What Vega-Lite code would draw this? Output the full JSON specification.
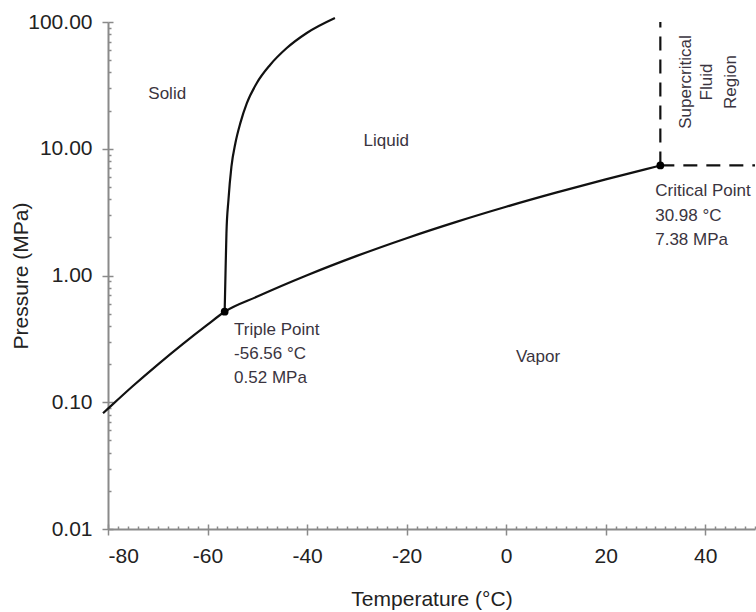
{
  "$schema": "https://vega.github.io/schema/vega-lite/v6.json",
  "width": 647,
  "height": 507,
  "autosize": {"type": "none"},
  "padding": {"left": 108, "top": 22, "right": 1, "bottom": 83},
  "background": "white",
  "config": {
    "view": {"stroke": null},
    "font": "Liberation Sans",
    "axis": {"grid": false, "domainColor": "#8a8a8a", "domainWidth": 2, "tickColor": "#8a8a8a", "tickWidth": 1.5, "labelColor": "#222222", "titleColor": "#222222", "labelFontSize": 21, "titleFontSize": 21, "titleFontWeight": "normal", "labelFont": "Liberation Sans", "titleFont": "Liberation Sans"}
  },
  "datasets": {
    "curves": [
      {"curve": "sublimation-vaporization", "ord": 1, "T": -81, "P": 0.0819},
      {"curve": "sublimation-vaporization", "ord": 2, "T": -80, "P": 0.089},
      {"curve": "sublimation-vaporization", "ord": 3, "T": -75, "P": 0.1343},
      {"curve": "sublimation-vaporization", "ord": 4, "T": -70, "P": 0.1984},
      {"curve": "sublimation-vaporization", "ord": 5, "T": -65, "P": 0.2877},
      {"curve": "sublimation-vaporization", "ord": 6, "T": -60, "P": 0.4098},
      {"curve": "sublimation-vaporization", "ord": 7, "T": -56.56, "P": 0.518},
      {"curve": "sublimation-vaporization", "ord": 8, "T": -50, "P": 0.6824},
      {"curve": "sublimation-vaporization", "ord": 9, "T": -40, "P": 1.0045},
      {"curve": "sublimation-vaporization", "ord": 10, "T": -30, "P": 1.4278},
      {"curve": "sublimation-vaporization", "ord": 11, "T": -20, "P": 1.9696},
      {"curve": "sublimation-vaporization", "ord": 12, "T": -10, "P": 2.6487},
      {"curve": "sublimation-vaporization", "ord": 13, "T": 0, "P": 3.4851},
      {"curve": "sublimation-vaporization", "ord": 14, "T": 10, "P": 4.5022},
      {"curve": "sublimation-vaporization", "ord": 15, "T": 20, "P": 5.7291},
      {"curve": "sublimation-vaporization", "ord": 16, "T": 30, "P": 7.2137},
      {"curve": "sublimation-vaporization", "ord": 17, "T": 30.98, "P": 7.3773},
      {"curve": "melting", "ord": 1, "T": -56.56, "P": 0.518},
      {"curve": "melting", "ord": 2, "T": -56.4, "P": 1.0},
      {"curve": "melting", "ord": 3, "T": -56.2, "P": 2.16},
      {"curve": "melting", "ord": 4, "T": -55.8, "P": 3.94},
      {"curve": "melting", "ord": 5, "T": -55.2, "P": 7.22},
      {"curve": "melting", "ord": 6, "T": -54.4, "P": 11.1},
      {"curve": "melting", "ord": 7, "T": -53.4, "P": 16.0},
      {"curve": "melting", "ord": 8, "T": -52.1, "P": 22.9},
      {"curve": "melting", "ord": 9, "T": -50.1, "P": 33.0},
      {"curve": "melting", "ord": 10, "T": -47.44, "P": 45.8},
      {"curve": "melting", "ord": 11, "T": -44.08, "P": 62.3},
      {"curve": "melting", "ord": 12, "T": -40.06, "P": 81.9},
      {"curve": "melting", "ord": 13, "T": -34.4, "P": 107.5}
    ],
    "dashed": [
      {"seg": "vertical", "ord": 1, "T": 30.98, "P": 7.38},
      {"seg": "vertical", "ord": 2, "T": 30.98, "P": 100},
      {"seg": "horizontal", "ord": 1, "T": 30.98, "P": 7.38},
      {"seg": "horizontal", "ord": 2, "T": 50, "P": 7.38}
    ],
    "points": [
      {"name": "Triple Point", "T": -56.56, "P": 0.518},
      {"name": "Critical Point", "T": 30.98, "P": 7.38}
    ],
    "labels": [
      {"kind": "center", "text": "Solid", "T": -68.1, "P": 27.0},
      {"kind": "center", "text": "Liquid", "T": -24.1, "P": 11.5},
      {"kind": "center", "text": "Vapor", "T": 6.4, "P": 0.2275},
      {"kind": "left", "text": "Triple Point", "T": -54.67, "P": 0.3715},
      {"kind": "left", "text": "-56.56 °C", "T": -54.67, "P": 0.2405},
      {"kind": "left", "text": "0.52 MPa", "T": -54.67, "P": 0.1552},
      {"kind": "left", "text": "Critical Point", "T": 29.95, "P": 4.64},
      {"kind": "left", "text": "30.98 °C", "T": 29.95, "P": 2.947},
      {"kind": "left", "text": "7.38 MPa", "T": 29.95, "P": 1.905},
      {"kind": "rotated", "text": "Supercritical", "T": 36.2, "P": 33.6},
      {"kind": "rotated", "text": "Fluid", "T": 40.4, "P": 33.6},
      {"kind": "rotated", "text": "Region", "T": 45.2, "P": 33.6}
    ]
  },
  "layer": [
    {
      "data": {"name": "curves"},
      "mark": {"type": "line", "color": "#111111", "strokeWidth": 2.2, "interpolate": "monotone"},
      "encoding": {
        "x": {"field": "T", "type": "quantitative", "scale": {"domain": [-80, 50], "nice": false, "zero": false},
          "axis": {"orient": "bottom", "values": [-80, -60, -40, -20, 0, 20, 40], "labelExpr": "datum.value < 0 ? '-' + abs(datum.value) : '' + datum.value", "title": "Temperature (°C)", "tickSize": 6, "labelPadding": 10, "titlePadding": 22}},
        "y": {"field": "P", "type": "quantitative", "scale": {"type": "log", "domain": [0.01, 100], "nice": false},
          "axis": {"orient": "left", "values": [0.01, 0.1, 1, 10, 100], "format": ".2f", "title": "Pressure (MPa)", "tickSize": 6, "labelPadding": 10, "titlePadding": -4}},
        "detail": {"field": "curve"},
        "order": {"field": "ord", "type": "quantitative"}
      }
    },
    {
      "data": {"name": "dashed"},
      "mark": {"type": "line", "color": "#111111", "strokeWidth": 2.2, "strokeDash": [14, 9]},
      "encoding": {
        "x": {"field": "T", "type": "quantitative", "scale": {"domain": [-80, 50], "nice": false, "zero": false},
          "axis": {"orient": "bottom", "values": [-80, -78, -76, -74, -72, -70, -68, -66, -64, -62, -60, -58, -56, -54, -52, -50, -48, -46, -44, -42, -40, -38, -36, -34, -32, -30, -28, -26, -24, -22, -20, -18, -16, -14, -12, -10, -8, -6, -4, -2, 0, 2, 4, 6, 8, 10, 12, 14, 16, 18, 20, 22, 24, 26, 28, 30, 32, 34, 36, 38, 40, 42, 44, 46, 48, 50],
            "labels": false, "title": null, "domain": false,
            "tickSize": {"condition": {"test": "datum.value % 20 === 0", "value": -5}, "value": -3}}},
        "y": {"field": "P", "type": "quantitative", "scale": {"type": "log", "domain": [0.01, 100], "nice": false},
          "axis": {"orient": "left", "values": [0.01, 0.02, 0.03, 0.04, 0.05, 0.06, 0.07, 0.08, 0.09, 0.1, 0.2, 0.3, 0.4, 0.5, 0.6, 0.7, 0.8, 0.9, 1, 2, 3, 4, 5, 6, 7, 8, 9, 10, 20, 30, 40, 50, 60, 70, 80, 90, 100],
            "labels": false, "title": null, "domain": false,
            "tickSize": {"condition": {"test": "abs(log(datum.value)/LN10 - round(log(datum.value)/LN10)) < 0.000001", "value": -5}, "value": -3}}},
        "detail": {"field": "seg"},
        "order": {"field": "ord", "type": "quantitative"}
      }
    },
    {
      "data": {"name": "points"},
      "mark": {"type": "point", "filled": true, "color": "#000000", "size": 60, "opacity": 1},
      "encoding": {
        "x": {"field": "T", "type": "quantitative", "axis": null},
        "y": {"field": "P", "type": "quantitative", "axis": null}
      }
    },
    {
      "data": {"name": "labels"},
      "transform": [{"filter": "datum.kind === 'center'"}],
      "mark": {"type": "text", "align": "center", "baseline": "middle", "fontSize": 17, "color": "#3a3440", "font": "Liberation Sans"},
      "encoding": {
        "x": {"field": "T", "type": "quantitative", "axis": null},
        "y": {"field": "P", "type": "quantitative", "axis": null},
        "text": {"field": "text"}
      }
    },
    {
      "data": {"name": "labels"},
      "transform": [{"filter": "datum.kind === 'left'"}],
      "mark": {"type": "text", "align": "left", "baseline": "middle", "fontSize": 17, "color": "#3a3440", "font": "Liberation Sans"},
      "encoding": {
        "x": {"field": "T", "type": "quantitative", "axis": null},
        "y": {"field": "P", "type": "quantitative", "axis": null},
        "text": {"field": "text"}
      }
    },
    {
      "data": {"name": "labels"},
      "transform": [{"filter": "datum.kind === 'rotated'"}],
      "mark": {"type": "text", "align": "center", "baseline": "middle", "angle": 270, "fontSize": 17, "color": "#3a3440", "font": "Liberation Sans"},
      "encoding": {
        "x": {"field": "T", "type": "quantitative", "axis": null},
        "y": {"field": "P", "type": "quantitative", "axis": null},
        "text": {"field": "text"}
      }
    }
  ],
  "resolve": {"axis": {"x": "independent", "y": "independent"}}
}
